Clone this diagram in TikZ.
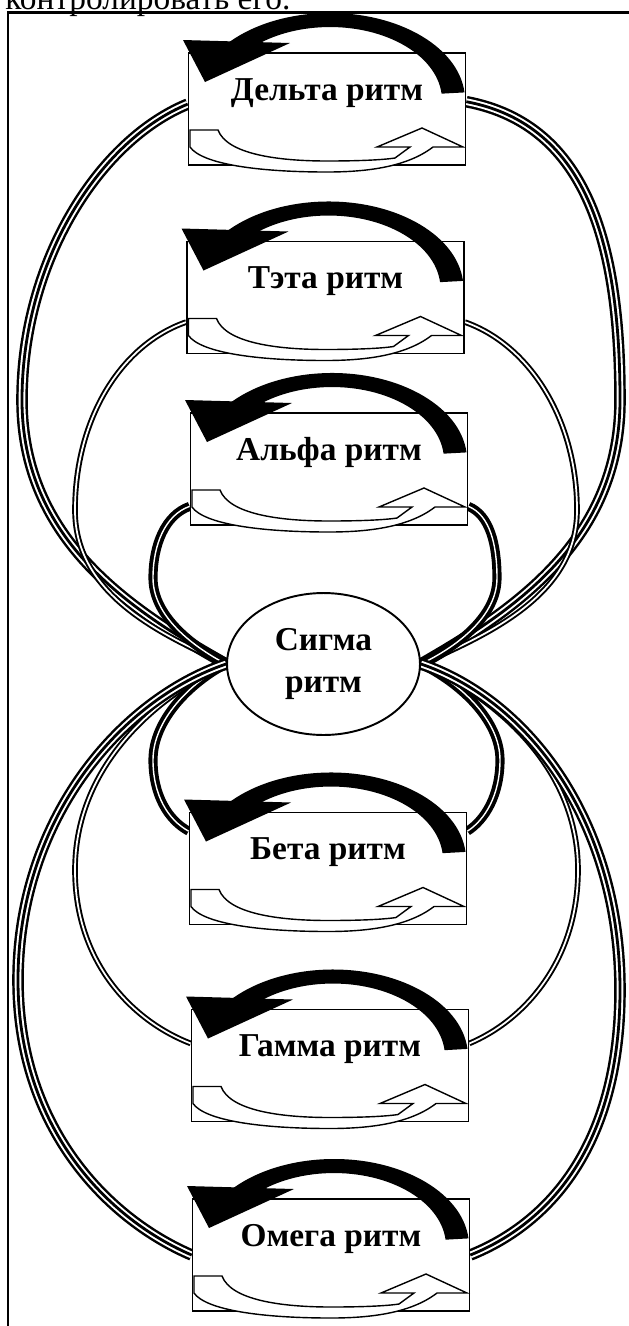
\documentclass[tikz,border=0pt]{standalone}
\usepackage{fontspec}
\setmainfont{Liberation Serif}
\usetikzlibrary{shapes.geometric,backgrounds}

\tikzset{
  rhythm/.style={draw, line width=1pt, fill=white, minimum width=5.54cm, minimum height=2.24cm,
    font=\fontsize{19}{22}\selectfont\bfseries, text height=0.5cm, text depth=0.86cm},
  hub/.style={ellipse, draw, line width=1.1pt, fill=white, minimum width=3.86cm, minimum height=2.84cm,
    align=center, font=\fontsize{19}{24}\selectfont\bfseries},
  tripleloop/.style={line width=6.6pt, postaction={draw=white, line width=3.8pt},
    postaction={draw=black, line width=1.6pt}},
  thickloop/.style={double, line width=2.2pt, double distance=0.8pt},
  thinloop/.style={double, line width=1.1pt, double distance=1pt},
  hollow/.style={draw, fill=white, line width=0.8pt, line join=miter},
}

\begin{document}
\begin{tikzpicture}[x=0.02cm,y=-0.02cm]
\useasboundingbox (0,0) rectangle (629,1326);
\node[anchor=base west, inner sep=0pt, font=\fontsize{19}{22}\selectfont] (header) at (5,9) {контролировать его.};
\draw[line width=1.2pt] (8,1340) -- (8,12.5) -- (640,12.5);

\node[rhythm] (delta) at (327,109) {Дельта ритм};
\node[rhythm] (teta) at (325.5,297.5) {Тэта ритм};
\node[rhythm] (alpha) at (329,469) {Альфа ритм};
\node[hub] (sigma) at (323.5,664) {Сигма\\ритм};
\node[rhythm] (beta) at (328,868.5) {Бета ритм};
\node[rhythm] (gamma) at (330,1065.5) {Гамма ритм};
\node[rhythm] (omega) at (331,1255) {Омега ритм};

% loops through the sigma rhythm
\begin{scope}[on background layer]
\draw[tripleloop] (delta.178) .. controls (100,140) and (22,260) .. (22,400) .. controls (22,540) and (130,610) .. (sigma.west);
\draw[tripleloop] (delta.3) .. controls (590,125) and (620,250) .. (620,400) .. controls (620,540) and (515,610) .. (sigma.east);
\draw[thinloop] (teta.190) .. controls (120,345) and (75,420) .. (75,510) .. controls (75,590) and (150,630) .. (sigma.west);
\draw[thinloop] (teta.-10) .. controls (530,345) and (577,420) .. (577,510) .. controls (577,590) and (500,630) .. (sigma.east);
\draw[thickloop] (alpha.195) .. controls (165,515) and (153,545) .. (153,578) .. controls (153,615) and (190,645) .. (sigma.west);
\draw[thickloop] (alpha.-15) .. controls (490,515) and (497,545) .. (497,578) .. controls (497,615) and (460,645) .. (sigma.east);
\draw[thickloop] (sigma.west) .. controls (190,683) and (153,720) .. (153,760) .. controls (153,795) and (168,820) .. (beta.165);
\draw[thickloop] (sigma.east) .. controls (460,683) and (500,720) .. (500,760) .. controls (500,795) and (485,820) .. (beta.15);
\draw[thinloop] (sigma.west) .. controls (150,700) and (75,770) .. (75,870) .. controls (75,960) and (130,1020) .. (gamma.171);
\draw[thinloop] (sigma.east) .. controls (500,700) and (578,770) .. (578,870) .. controls (578,960) and (525,1020) .. (gamma.9);
\draw[tripleloop] (sigma.west) .. controls (120,700) and (18,820) .. (18,980) .. controls (18,1130) and (110,1220) .. (omega.west);
\draw[tripleloop] (sigma.east) .. controls (527,700) and (620,820) .. (620,990) .. controls (620,1150) and (545,1225) .. (omega.east);
\end{scope}

% cycle arrows on every box
\foreach \b in {delta,teta,alpha,beta,gamma,omega}{
  \begin{scope}[shift={(\b.center)}]
    \fill (137.5,-16.6) arc[start angle=-5, end angle=-140, x radius=135, y radius=87]
      -- (-82.8,-55.9) arc[start angle=-140, end angle=-5, x radius=112, y radius=73] -- cycle;
    \fill (-144,-69) -- (-37,-66) -- (-122,-27) -- cycle;
    \draw[hollow] (-137,21) -- (-109,21) .. controls (-100,45) and (-50,52) .. (0,52)
      .. controls (30,52) and (55,51) .. (68,49) -- (83,38) -- (50,38) -- (95,19) -- (136,38) -- (106,38)
      .. controls (80,58) and (40,63) .. (0,63) .. controls (-70,63) and (-125,55) .. (-137,38) -- cycle;
  \end{scope}
}
\end{tikzpicture}
\end{document}
